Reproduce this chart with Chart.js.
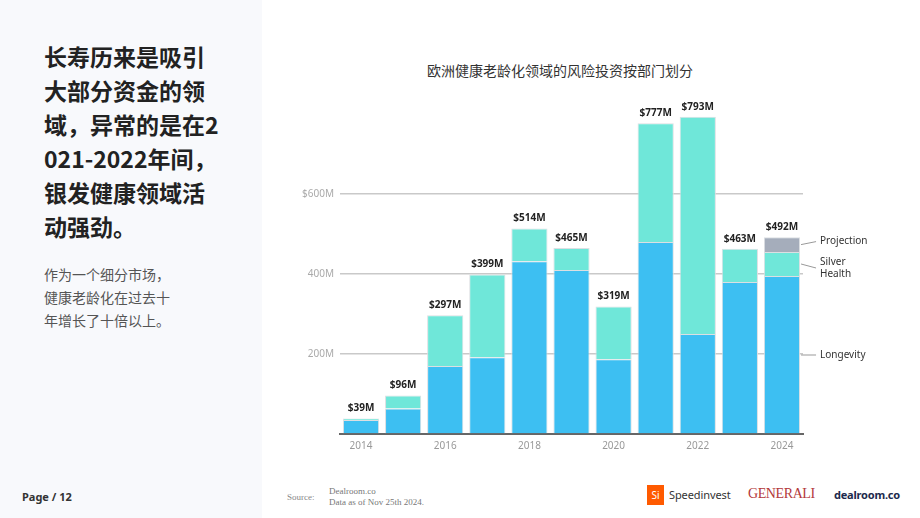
<!DOCTYPE html>
<html>
<head>
<meta charset="utf-8">
<script src="https://cdn.jsdelivr.net/npm/chart.js@4.4.1/dist/chart.umd.min.js"></script>
<style>
  html, body { margin: 0; padding: 0; }
  body { width: 920px; height: 518px; position: relative; overflow: hidden; background: #fff; font-family: "Noto Sans", "Noto Sans CJK SC", sans-serif; }
  #side { position: absolute; left: 0; top: 0; width: 262px; height: 518px; background: #f8f9fc; }
  #headline { position: absolute; left: 44px; top: 39px; font-family: "Noto Sans CJK SC", sans-serif; font-weight: 700; font-size: 23px; line-height: 34px; color: #222; white-space: nowrap; }
  #sub { position: absolute; left: 44px; top: 263px; font-family: "Noto Sans CJK SC", sans-serif; font-size: 14px; line-height: 23px; color: #555; white-space: nowrap; }
  #page { position: absolute; left: 22px; top: 489px; font-size: 11px; font-weight: 700; color: #333; }
  #title { position: absolute; left: 262px; width: 596px; top: 60px; text-align: center; font-family: "Noto Sans CJK SC", sans-serif; font-size: 14px; color: #333; }
  #chartBox { position: absolute; left: 290px; top: 100px; width: 600px; height: 360px; }
  #src { position: absolute; left: 287px; top: 492px; font-family: "Liberation Serif", serif; font-size: 9px; color: #888; }
  #srcText { position: absolute; left: 329px; top: 486px; font-family: "Liberation Serif", serif; font-size: 9px; line-height: 11px; color: #777; }
  #si { position: absolute; left: 647px; top: 485px; width: 17px; height: 20px; background: #ff5a00; color: #fff; font-size: 10px; line-height: 20px; text-align: center; }
  #speed { position: absolute; left: 669px; top: 487px; font-size: 11px; color: #333; letter-spacing: -0.1px; }
  #gen { position: absolute; left: 748px; top: 486px; font-family: "Liberation Serif", serif; font-size: 14px; color: #b3383a; letter-spacing: -0.4px; }
  #deal { position: absolute; left: 834px; top: 487px; font-size: 11px; font-weight: 700; color: #1d2a4d; letter-spacing: -0.2px; }
</style>
</head>
<body>
<div id="side"></div>
<div id="headline">长寿历来是吸引<br>大部分资金的领<br>域，异常的是在2<br>021-2022年间，<br>银发健康领域活<br>动强劲。</div>
<div id="sub">作为一个细分市场，<br>健康老龄化在过去十<br>年增长了十倍以上。</div>
<div id="page">Page / 12</div>
<div id="title">欧洲健康老龄化领域的风险投资按部门划分</div>
<div id="chartBox"><canvas id="chart"></canvas></div>
<div id="src">Source:</div>
<div id="srcText">Dealroom.co<br>Data as of Nov 25th 2024.</div>
<div id="si">Si</div>
<div id="speed">Speedinvest</div>
<div id="gen">GENERALI</div>
<div id="deal">dealroom.co</div>
<script>
// values in $M
const years = ['2014', '2015', '2016', '2017', '2018', '2019', '2020', '2021', '2022', '2023', '2024'];
const longevity = [35, 64, 170, 192, 432, 410, 187, 480, 250, 380, 395];
const silverHealth = [4, 32, 127, 207, 82, 55, 132, 297, 543, 83, 60];
const projection = [0, 0, 0, 0, 0, 0, 0, 0, 0, 0, 37];
const totals = ['$39M', '$96M', '$297M', '$399M', '$514M', '$465M', '$319M', '$777M', '$793M', '$463M', '$492M'];
const yTickLabels = { 200: '200M', 400: '400M', 600: '$600M' };

const COLORS = { longevity: '#3dbff2', silver: '#6fe7d9', projection: '#a5adbb' };

// total labels above bars + series names to the right of the last bar
const labelsPlugin = {
    id: 'labels',
    afterDatasetsDraw(chart) {
        const ctx = chart.ctx;
        const y = chart.scales.y;
        const last = years.length - 1;

        ctx.save();
        ctx.font = 'bold 10px "Noto Sans", sans-serif';
        ctx.fillStyle = '#222';
        ctx.textAlign = 'center';
        ctx.textBaseline = 'bottom';
        years.forEach((yr, i) => {
            const top = chart.getDatasetMeta(2).data[i].y;
            const bar = chart.getDatasetMeta(1).data[i];
            const py = projection[i] > 0 ? top : bar.y;
            ctx.fillText(totals[i], bar.x, py - 5);
        });

        const bar = chart.getDatasetMeta(0).data[last];
        const x0 = bar.x + bar.width / 2 + 1;
        const x1 = x0 + 15;
        const base = longevity[last];
        const names = [
            { lines: ['Projection'], mid: base + silverHealth[last] + projection[last] / 2, dy: -3 },
            { lines: ['Silver', 'Health'], mid: base + silverHealth[last] / 2, dy: 4 },
            { lines: ['Longevity'], mid: base / 2, dy: 0 }
        ];
        ctx.font = '10px "Noto Sans", sans-serif';
        ctx.fillStyle = '#333';
        ctx.textAlign = 'left';
        ctx.textBaseline = 'middle';
        ctx.strokeStyle = '#999';
        ctx.lineWidth = 1;
        names.forEach(n => {
            const ay = y.getPixelForValue(n.mid);
            ctx.beginPath();
            ctx.moveTo(x0, ay);
            ctx.lineTo(x1, ay + n.dy);
            ctx.stroke();
            const h = 12;
            const startY = ay + n.dy - (n.lines.length - 1) * h / 2;
            n.lines.forEach((t, k) => ctx.fillText(t, x1 + 4, startY + k * h));
        });
        ctx.restore();
    }
};

new Chart(document.getElementById('chart'), {
    type: 'bar',
    data: {
        labels: years,
        datasets: [
            { label: 'Longevity', data: longevity, backgroundColor: COLORS.longevity },
            { label: 'Silver Health', data: silverHealth, backgroundColor: COLORS.silver },
            { label: 'Projection', data: projection, backgroundColor: COLORS.projection }
        ].map(d => Object.assign(d, {
            borderColor: '#dcdfe2',
            borderWidth: { left: 1, right: 1, top: 1, bottom: 0 },
            borderSkipped: 'bottom',
            categoryPercentage: 1,
            barPercentage: 0.86,
            stack: 's'
        }))
    },
    options: {
        responsive: true,
        maintainAspectRatio: false,
        animation: false,
        layout: { padding: { top: 14, right: 87, left: 0, bottom: 0 } },
        plugins: {
            legend: { display: false },
            tooltip: { enabled: false }
        },
        scales: {
            x: {
                stacked: true,
                grid: { display: false, drawTicks: false },
                border: { color: '#666', width: 2 },
                ticks: {
                    autoSkip: false,
                    maxRotation: 0,
                    padding: 6,
                    color: '#999',
                    font: { size: 10, family: '"Noto Sans", sans-serif' },
                    callback: (v, i) => (i % 2 === 0 ? years[i] : '')
                },
                afterFit: s => { s.height = 26; }
            },
            y: {
                stacked: true,
                min: 0,
                max: 800,
                border: { display: false },
                grid: {
                    drawTicks: false,
                    color: c => (yTickLabels[c.tick.value] ? '#c9c9c9' : 'rgba(0,0,0,0)'),
                    lineWidth: 1.5
                },
                ticks: {
                    stepSize: 200,
                    padding: 6,
                    color: '#aaa',
                    font: { size: 10, family: '"Noto Sans", sans-serif' },
                    callback: v => yTickLabels[v] || ''
                },
                afterFit: s => { s.width = 50; }
            }
        }
    },
    plugins: [labelsPlugin]
});
</script>
</body>
</html>
